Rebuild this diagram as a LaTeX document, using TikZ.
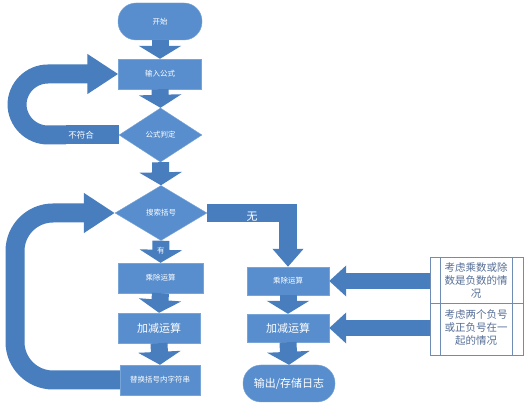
\documentclass[tikz,border=0pt]{standalone}
\usepackage{fontspec}
\setmainfont{Noto Sans CJK SC}
\usetikzlibrary{shapes.geometric,arrows.meta}
\definecolor{boxblue}{RGB}{88,142,206}
\definecolor{boxedge}{RGB}{120,165,215}
\definecolor{arrblue}{RGB}{72,125,190}
\definecolor{tabline}{RGB}{110,140,180}
\definecolor{tabtext}{RGB}{85,110,150}
\begin{document}
\begin{tikzpicture}[x=1pt,y=-1pt,
  box/.style={draw=boxedge, fill=boxblue, text=white, inner sep=0pt, minimum height=30pt, font=\fontsize{7.5}{9}\selectfont},
  bigtxt/.style={font=\fontsize{11}{13}\selectfont},
  stadium/.style={box, rounded corners=18pt, minimum height=37pt},
  dia/.style={box, diamond, minimum height=54pt},
  vflow/.style={arrblue, line width=17pt, -{Triangle[width=42pt,length=13pt]}},
  loopflow/.style={arrblue, line width=19pt, -{Triangle[width=38pt,length=31pt]}},
  sideflow/.style={arrblue, line width=16pt, -{Triangle[width=30pt,length=17pt]}},
  lbl/.style={text=white, inner sep=0.5pt},
  patch/.style={fill=arrblue, text=white, inner xsep=2pt, inner ysep=0pt},
  celltxt/.style={text=tabtext, text width=72pt, align=center, inner sep=0pt, font=\fontsize{10.5}{13}\selectfont}
]
\useasboundingbox (0,0) rectangle (525,411);
\fill[white] (0,0) rectangle (525,411);

% nodes
\node[stadium, minimum width=84pt] (start) at (160,21.5) {开始};
\node[box, minimum width=83pt] (in) at (160,74) {输入公式};
\node[dia, minimum width=83pt] (pd) at (160.5,135) {公式判定};
\node[dia, minimum width=92pt, minimum height=55pt] (ss) at (161,213) {搜索括号};
\node[box, minimum width=85pt] (ml) at (160.5,278) {乘除运算};
\node[box, bigtxt, minimum width=82pt] (al) at (159,328) {加减运算};
\node[box, minimum width=80pt] (rep) at (160,380) {替换括号内字符串};
\node[box, minimum width=82pt, minimum height=28pt] (mr) at (288,281) {乘除运算};
\node[box, bigtxt, minimum width=82pt, minimum height=28pt] (ar) at (288,328) {加减运算};
\node[stadium, bigtxt, minimum width=92pt] (out) at (289,383.5) {输出/存储日志};

% table
\node[draw=tabline, minimum width=93pt, minimum height=46pt, inner sep=0pt] (c1) at (476.5,280) {};
\node[draw=tabline, minimum width=93pt, minimum height=52pt, inner sep=0pt] (c2) at (476.5,329) {};
\draw[tabline] (440,257) -- (440,355) (512,257) -- (512,355);
\node[celltxt] (t1) at (476,280) {考虑乘数或除\\数是负数的情\\况};
\node[celltxt] (t2) at (476,328) {考虑两个负号\\或正负号在一\\起的情况};

% vertical arrows
\draw[vflow] (start.south) -- (in.north);
\draw[vflow] (in.south) -- (pd.north);
\draw[vflow] (pd.south) -- (ss.north);
\draw[vflow] (ss.south) -- node[lbl, pos=0.45, font=\fontsize{7.5}{9}\selectfont] (you) {有} (ml.north);
\draw[vflow] (ml.south) -- (al.north);
\draw[vflow] (al.south) -- (rep.north);
\draw[vflow] (mr.south) -- (ar.north);
\draw[vflow] (ar.south) -- (out.north);

% labelled pieces of the broad arrows (drawn before the bent parts)
\coordinate (nfx) at (81,0);
\coordinate (wux) at (252,0);
\draw[arrblue, line width=19pt] (pd.west) -- (nfx |- pd.west);
\node[patch, minimum height=19pt, font=\fontsize{8.5}{10}\selectfont] (nf) at (nfx |- pd.west) {不符合};
\draw[arrblue, line width=18pt] (ss.east) -- (wux |- ss.east);
\node[patch, minimum height=18pt, minimum width=18pt] (wup) at (wux |- ss.east) {};
\node[lbl, font=\fontsize{11}{13}\selectfont] (wu) at ([yshift=-4pt]wup.center) {无};

% loops
\coordinate (L1) at (17,0);
\draw[loopflow, rounded corners=31pt] (nf.west) -- (L1 |- nf.west) -- (L1 |- in.west) -- (in.west);
\coordinate (L2) at (15,0);
\draw[loopflow, rounded corners=38pt] (rep.west) -- (L2 |- rep.west) -- (L2 |- ss.west) -- (ss.west);

% no-bracket branch
\draw[arrblue, line width=18pt, line join=miter, -{Triangle[width=30pt,length=18pt]}] (wup.east) -| (mr.north);

% side arrows from table
\draw[sideflow] (c1.west |- mr.east) -- (mr.east);
\draw[sideflow] (c2.west |- ar.east) -- (ar.east);
\end{tikzpicture}
\end{document}
